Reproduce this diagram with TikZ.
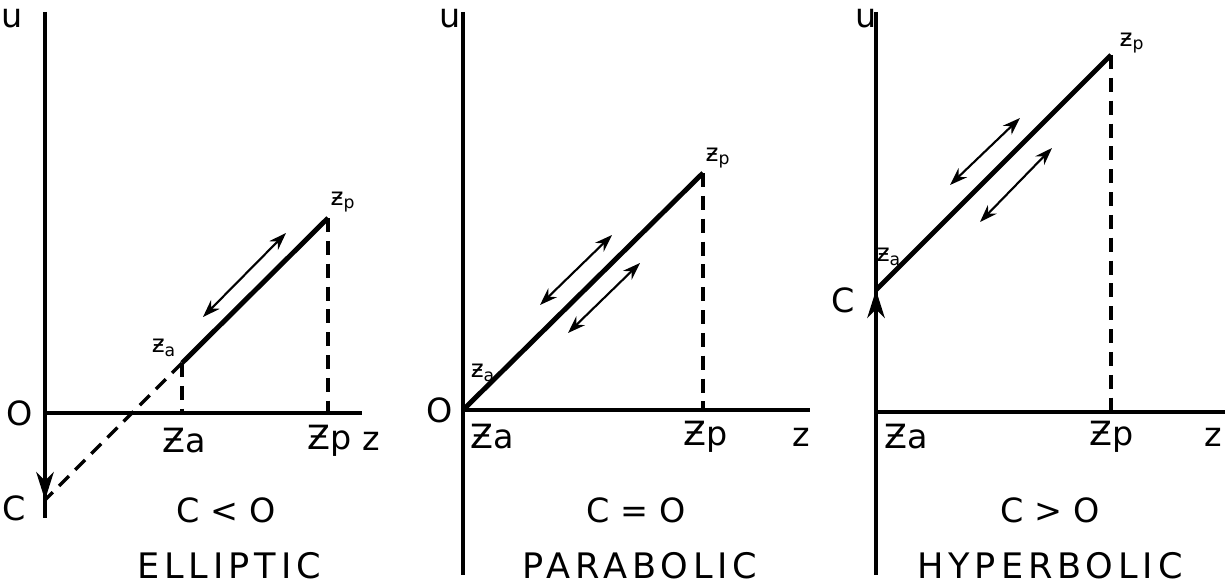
\documentclass[tikz,border=0pt]{standalone}
\usepackage{fontspec}
\setmainfont{DejaVu Sans}
\newfontfamily\spaced[LetterSpace=14]{DejaVu Sans}
\usepackage{tikz}
\usetikzlibrary{arrows.meta}

\begin{document}
\begin{tikzpicture}[x=0.02cm,y=-0.02cm,
  axis/.style={line width=2pt},
  orbit/.style={line width=2.8pt},
  guide/.style={line width=1.9pt,dash pattern=on 8pt off 5pt},
  move/.style={line width=1.2pt,{Stealth[length=10pt,width=7pt]}-{Stealth[length=10pt,width=7pt]}},
  cdir/.style={axis,-{Stealth[length=16pt,width=10pt,inset=5pt]}},
  lbl/.style={font=\fontsize{19}{22}\selectfont},
  tag/.style={font=\fontsize{14}{16}\selectfont},
  title/.style={font=\spaced\fontsize{20}{24}\selectfont}]
\useasboundingbox (0,0) rectangle (1231,588);
% elliptic
\coordinate (U1) at (45,12);
\coordinate (B1) at (45,518);
\coordinate (O1) at (45,413);
\coordinate (E1) at (362,413);
\coordinate (C1) at (45,500);
\coordinate (A1) at (182,363);
\coordinate (P1) at (328,218);
\coordinate (A1x) at (182,413);
\coordinate (P1x) at (328,413);
\draw[axis] (U1) -- (B1);
\draw[axis] (O1) -- (E1);
\draw[cdir] (O1) -- (C1);
\draw[orbit] (A1) -- (P1);
\draw[guide] (A1) -- (C1);
\draw[guide] (A1) -- (A1x);
\draw[guide] (P1) -- (P1x);
\coordinate (m1a) at (203,317);
\coordinate (m1b) at (286,233);
\draw[move] (m1a) -- (m1b);
\node[lbl] (u1) at (12,18) {u};
\node[lbl] (o1) at (20,413) {O};
\node[lbl] (c1) at (14,508) {C};
\node[lbl] (za1) at (184,441) {Ƶa};
\node[lbl] (zp1) at (330,441) {Ƶp};
\node[lbl] (z1) at (371,441) {z};
\node[tag] (ta1) at (164,348) {ƶ\textsubscript{a}};
\node[tag] (tp1) at (343,202) {ƶ\textsubscript{p}};
\node[lbl] (k1) at (226,510) {C < O};
\node[title] (n1) at (229,566) {ELLIPTIC};
% parabolic
\coordinate (U2) at (463,12);
\coordinate (B2) at (463,575);
\coordinate (O2) at (463,410);
\coordinate (E2) at (810,410);
\coordinate (P2) at (703,173);
\coordinate (P2x) at (703,410);
\draw[axis] (U2) -- (B2);
\draw[axis] (O2) -- (E2);
\draw[orbit] (O2) -- (P2);
\draw[guide] (P2) -- (P2x);
\coordinate (m2a) at (540,305);
\coordinate (m2b) at (612,235);
\coordinate (m2c) at (568,333);
\coordinate (m2d) at (640,263);
\draw[move] (m2a) -- (m2b);
\draw[move] (m2c) -- (m2d);
\node[lbl] (u2) at (450,18) {u};
\node[lbl] (o2) at (440,410) {O};
\node[lbl] (za2) at (492,437) {Ƶa};
\node[lbl] (zp2) at (706,437) {Ƶp};
\node[lbl] (z2) at (801,437) {z};
\node[tag] (ta2) at (483,373) {ƶ\textsubscript{a}};
\node[tag] (tp2) at (718,158) {ƶ\textsubscript{p}};
\node[lbl] (k2) at (636,510) {C = O};
\node[title] (n2) at (640,566) {PARABOLIC};
% hyperbolic
\coordinate (U3) at (876,12);
\coordinate (B3) at (876,575);
\coordinate (O3) at (876,412);
\coordinate (E3) at (1225,412);
\coordinate (C3) at (876,290);
\coordinate (P3) at (1111,55);
\coordinate (P3x) at (1111,412);
\draw[axis] (U3) -- (B3);
\draw[axis] (O3) -- (E3);
\draw[cdir] (O3) -- (C3);
\draw[orbit] (C3) -- (P3);
\draw[guide] (P3) -- (P3x);
\coordinate (m3a) at (950,185);
\coordinate (m3b) at (1020,118);
\coordinate (m3c) at (980,222);
\coordinate (m3d) at (1052,148);
\draw[move] (m3a) -- (m3b);
\draw[move] (m3c) -- (m3d);
\node[lbl] (u3) at (866,18) {u};
\node[lbl] (c3) at (843,300) {C};
\node[lbl] (za3) at (906,437) {Ƶa};
\node[lbl] (zp3) at (1112,437) {Ƶp};
\node[lbl] (z3) at (1213,437) {z};
\node[tag] (ta3) at (889,257) {ƶ\textsubscript{a}};
\node[tag] (tp3) at (1132,43) {ƶ\textsubscript{p}};
\node[lbl] (k3) at (1050,510) {C > O};
\node[title] (n3) at (1050,566) {HYPERBOLIC};
\end{tikzpicture}
\end{document}
